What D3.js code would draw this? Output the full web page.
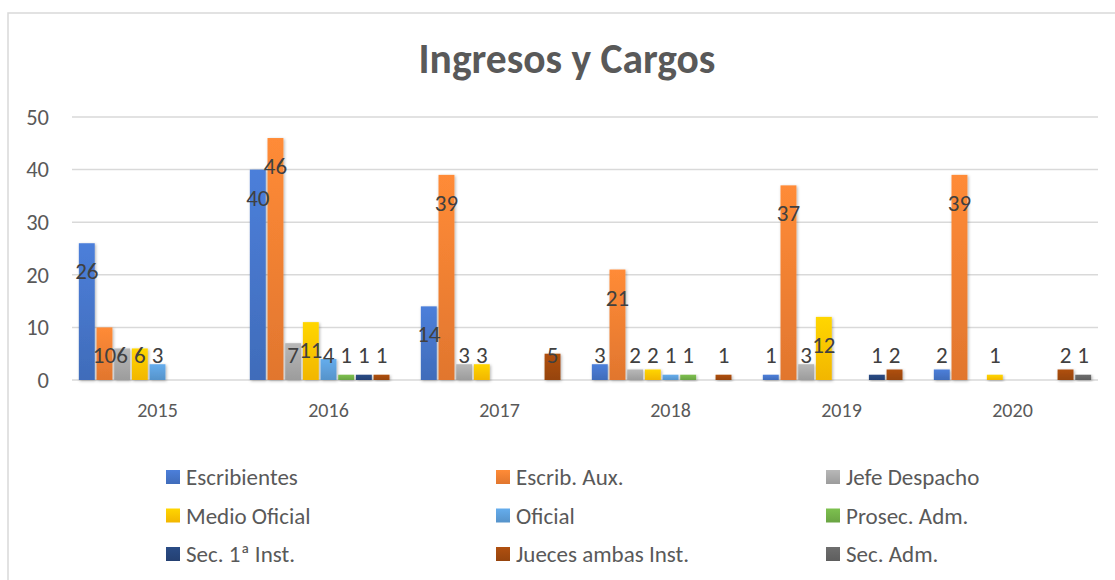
<!DOCTYPE html>
<meta charset="utf-8">
<style>
body { margin:0; background:white; font-family:Carlito, "Open Sans", sans-serif; }
</style>
<script src="https://d3js.org/d3.v7.min.js"></script>
<div id="chart"></div>
<script>

// data (0 = empty cell, no bar and no label)
var years = ["2015", "2016", "2017", "2018", "2019", "2020"];
var seriesNames = ["Escribientes", "Escrib. Aux.", "Jefe Despacho", "Medio Oficial", "Oficial",
                   "Prosec. Adm.", "Sec. 1ª Inst.", "Jueces ambas Inst.", "Sec. Adm."];
var seriesColors = ["#4472C4", "#ED7D31", "#A5A5A5", "#FFC000", "#5B9BD5",
                    "#70AD47", "#264478", "#9E480E", "#636363"];
var escribientes = [26, 40, 14, 3, 1, 2];
var escribAux    = [10, 46, 39, 21, 37, 39];
var jefeDespacho = [6, 7, 3, 2, 3, 0];
var medioOficial = [6, 11, 3, 2, 12, 1];
var oficial      = [3, 4, 0, 1, 0, 0];
var prosecAdm    = [0, 1, 0, 1, 0, 0];
var sec1Inst     = [0, 1, 0, 0, 1, 0];
var jueces       = [0, 1, 5, 1, 2, 2];
var secAdm       = [0, 0, 0, 0, 0, 1];
var yTicks = [0, 10, 20, 30, 40, 50];

var values = [escribientes, escribAux, jefeDespacho, medioOficial, oficial,
              prosecAdm, sec1Inst, jueces, secAdm];

var W = 1115, H = 580;
var svg = d3.select("#chart").append("svg")
    .attr("width", W).attr("height", H);

var defs = svg.append("defs");
seriesColors.forEach(function(c, i) {
  var g = defs.append("linearGradient")
      .attr("id", "grad" + i)
      .attr("x1", 0).attr("y1", 0).attr("x2", 0).attr("y2", 1);
  g.append("stop").attr("offset", "0%").attr("stop-color", d3.color(c).brighter(0.3));
  g.append("stop").attr("offset", "100%").attr("stop-color", d3.color(c).darker(0.15));
});
var f = defs.append("filter").attr("id", "shadow")
    .attr("x", "-30%").attr("y", "-10%").attr("width", "160%").attr("height", "130%");
f.append("feDropShadow").attr("dx", 1).attr("dy", 1).attr("stdDeviation", 1.8)
    .attr("flood-color", "#000").attr("flood-opacity", 0.3);

// outer chart frame (runs off the right / bottom edge)
svg.append("rect")
    .attr("x", 8).attr("y", 13).attr("width", W + 20).attr("height", H + 20)
    .attr("fill", "none").attr("stroke", "#d9d9d9").attr("stroke-width", 1.5);

// title
svg.append("text")
    .attr("x", 567).attr("y", 73)
    .attr("text-anchor", "middle")
    .attr("font-size", 41.5).attr("font-weight", "bold")
    .attr("fill", "#595959")
    .text("Ingresos y Cargos");

var x0 = d3.scaleBand().domain(years).range([72, 1098])
    .paddingInner(0.08).paddingOuter(0.04);
var x1 = d3.scaleBand().domain(d3.range(seriesNames.length))
    .range([0, x0.bandwidth()]).paddingInner(0.1);
var y = d3.scaleLinear().domain([0, 50]).range([380, 117]);

// gridlines + y labels
svg.append("g").selectAll("line").data(yTicks).join("line")
    .attr("x1", 72).attr("x2", 1098)
    .attr("y1", function(d) { return y(d); }).attr("y2", function(d) { return y(d); })
    .attr("stroke", "#d9d9d9").attr("stroke-width", 1.5);

svg.append("g").selectAll("text").data(yTicks).join("text")
    .attr("x", 49).attr("y", function(d) { return y(d); })
    .attr("dy", "0.35em").attr("text-anchor", "end")
    .attr("font-size", 22.5).attr("fill", "#595959")
    .text(function(d) { return d; });

// year labels
svg.append("g").selectAll("text").data(years).join("text")
    .attr("x", function(d) { return x0(d) + x0.bandwidth() / 2; })
    .attr("y", 410).attr("dy", "0.35em").attr("text-anchor", "middle")
    .attr("font-size", 20).attr("fill", "#595959")
    .text(function(d) { return d; });

// bars
var cells = [];
years.forEach(function(yr, j) {
  values.forEach(function(arr, i) {
    if (arr[j] > 0) cells.push({year: yr, s: i, v: arr[j]});
  });
});

svg.append("g").selectAll("rect").data(cells).join("rect")
    .attr("x", function(d) { return x0(d.year) + x1(d.s); })
    .attr("y", function(d) { return y(d.v); })
    .attr("width", x1.bandwidth())
    .attr("height", function(d) { return y(0) - y(d.v); })
    .attr("fill", function(d) { return "url(#grad" + d.s + ")"; })
    .attr("filter", "url(#shadow)");

// data labels: inside end, pushed up over short bars
svg.append("g").selectAll("text").data(cells).join("text")
    .attr("x", function(d) { return x0(d.year) + x1(d.s) + x1.bandwidth() / 2; })
    .attr("y", function(d) { return Math.min(y(d.v) + 28, y(0) - 25); })
    .attr("dy", "0.35em").attr("text-anchor", "middle")
    .attr("font-size", 23).attr("fill", "#404040")
    .text(function(d) { return d.v; });

// legend, 3 columns
var leg = svg.append("g").selectAll("g").data(seriesNames).join("g")
    .attr("transform", function(d, i) {
      return "translate(" + (166 + (i % 3) * 330) + "," + (477 + Math.floor(i / 3) * 38.5) + ")";
    });
leg.append("rect")
    .attr("x", 0).attr("y", -7).attr("width", 14).attr("height", 14)
    .attr("fill", function(d, i) { return "url(#grad" + i + ")"; });
leg.append("text")
    .attr("x", 20).attr("dy", "0.35em")
    .attr("font-size", 23).attr("fill", "#595959")
    .text(function(d) { return d; });

</script>
